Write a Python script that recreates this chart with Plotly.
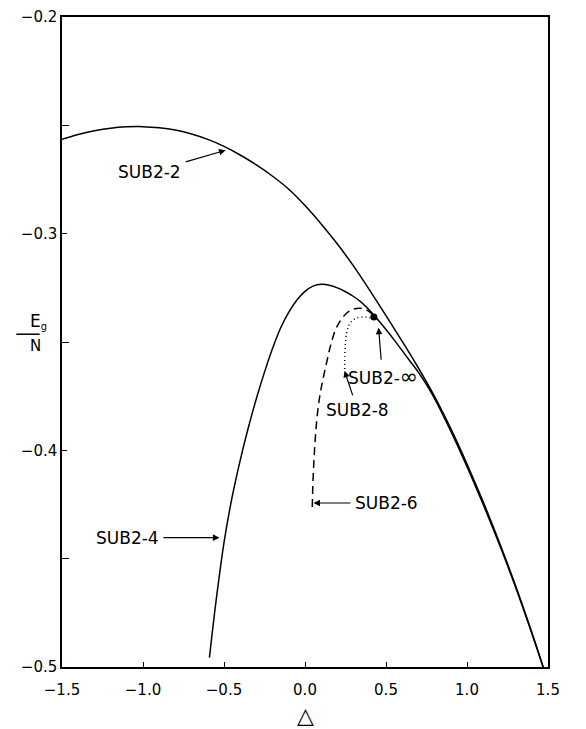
import plotly.graph_objects as go

# ---- data ----
sub2_2_x = [-1.5, -1.4, -1.3, -1.2, -1.1, -1.0, -0.9, -0.8, -0.7, -0.6, -0.5, -0.4, -0.3, -0.2,
            -0.1, 0.0, 0.1, 0.2, 0.3, 0.4, 0.5, 0.6, 0.7, 0.8, 0.9, 1.0, 1.1, 1.2, 1.3, 1.4, 1.47]
sub2_2_y = [-0.2564, -0.2542, -0.2525, -0.2513, -0.2507, -0.2506, -0.2511, -0.2522, -0.2540, -0.2565,
            -0.2597, -0.2637, -0.2683, -0.2735, -0.2795, -0.2870, -0.2955, -0.3048, -0.3150, -0.3262,
            -0.3378, -0.3497, -0.3620, -0.3752, -0.3900, -0.4063, -0.4238, -0.4425, -0.4625, -0.4840,
            -0.5000]

sub2_4_x = [-0.59, -0.577, -0.55, -0.5, -0.45, -0.4, -0.35, -0.3, -0.25, -0.2, -0.15, -0.1, -0.05,
            0.0, 0.05, 0.1, 0.15, 0.2, 0.25, 0.3, 0.35, 0.4, 0.45, 0.5, 0.55, 0.6, 0.65, 0.7, 0.75,
            0.8, 0.9, 1.0, 1.1, 1.2, 1.3, 1.4, 1.47]
sub2_4_y = [-0.4957, -0.4871, -0.4701, -0.4426, -0.4216, -0.4046, -0.3896, -0.3761, -0.3639, -0.3529,
            -0.3434, -0.3362, -0.3306, -0.3266, -0.3242, -0.3234, -0.3238, -0.3250, -0.3268, -0.3290,
            -0.3318, -0.3355, -0.3397, -0.3442, -0.3490, -0.3540, -0.3590, -0.3640, -0.3697, -0.3762,
            -0.3912, -0.4075, -0.4250, -0.4435, -0.4632, -0.4845, -0.5000]

sub2_6_x = [0.045, 0.049, 0.055, 0.063, 0.074, 0.090, 0.110, 0.135, 0.160, 0.19, 0.22, 0.26, 0.30,
            0.34, 0.38, 0.42, 0.45]
sub2_6_y = [-0.4262, -0.4150, -0.4050, -0.3950, -0.3850, -0.3755, -0.3675, -0.3590, -0.3510, -0.3440,
            -0.3400, -0.3365, -0.3348, -0.3344, -0.3352, -0.3375, -0.3397]

sub2_8_x = [0.245, 0.246, 0.250, 0.258, 0.272, 0.29, 0.315, 0.345, 0.375, 0.40, 0.425]
sub2_8_y = [-0.3625, -0.3560, -0.3500, -0.3455, -0.3422, -0.3402, -0.3390, -0.3385, -0.3385, -0.3388,
            -0.3390]

sub2_inf_x = [0.425]
sub2_inf_y = [-0.3385]

y_ticks = [-0.5, -0.4, -0.3, -0.2]
x_ticks = [-1.5, -1.0, -0.5, 0.0, 0.5, 1.0, 1.5]

FONT = "DejaVu Sans"

fig = go.Figure()
line_style = dict(color="black", width=1.5)
fig.add_trace(go.Scatter(x=sub2_2_x, y=sub2_2_y, mode="lines", line=dict(**line_style, shape="spline"),
                         showlegend=False, hoverinfo="skip"))
fig.add_trace(go.Scatter(x=sub2_4_x, y=sub2_4_y, mode="lines", line=dict(**line_style, shape="spline"),
                         showlegend=False, hoverinfo="skip"))
fig.add_trace(go.Scatter(x=sub2_6_x, y=sub2_6_y, mode="lines",
                         line=dict(color="black", width=1.5, dash="8px,5px", shape="spline"),
                         showlegend=False, hoverinfo="skip"))
fig.add_trace(go.Scatter(x=sub2_8_x, y=sub2_8_y, mode="lines",
                         line=dict(color="black", width=1.5, dash="1px,3px", shape="spline"),
                         showlegend=False, hoverinfo="skip"))
fig.add_trace(go.Scatter(x=sub2_inf_x, y=sub2_inf_y, mode="markers",
                         marker=dict(color="black", size=7), showlegend=False, hoverinfo="skip"))

def label(text, x, y, ax, ay):
    fig.add_annotation(x=x, y=y, xref="x", yref="y", text=text, showarrow=True,
                       ax=ax, ay=ay, arrowhead=2, arrowsize=1.1, arrowwidth=1.2,
                       arrowcolor="black", standoff=0, borderpad=4,
                       font=dict(family=FONT, size=17, color="black"))

label("SUB2-2", -0.49, -0.2615, -76, 22)
label("SUB2-4", -0.528, -0.4403, -92, 0)
label("SUB2-6", 0.052, -0.4243, 73, 0)
label("SUB2-8", 0.244, -0.3633, 13, 39)
label("SUB2-<span style='font-size:22px'>\u221e</span>", 0.454, -0.3434, 4, 49)

# axis titles
fig.add_annotation(x=-0.07, y=0.532, xref="paper", yref="paper", yanchor="middle",
                   text="E<span style='font-size:14px'><sub>g</sub></span>",
                   showarrow=False, font=dict(family=FONT, size=17, color="black"))
fig.add_annotation(x=-0.07, y=0.494, xref="paper", yref="paper", yanchor="middle", text="N",
                   showarrow=False, font=dict(family=FONT, size=15, color="black"))
fig.add_shape(type="line", xref="paper", yref="paper", x0=-0.094, x1=-0.046, y0=0.512, y1=0.512,
              line=dict(color="black", width=1.5))
fig.add_annotation(x=0.0, y=-0.074, xref="x", yref="paper", yanchor="middle", text="\u25b3",
                   showarrow=False, font=dict(family=FONT, size=22, color="black"))

fig.update_xaxes(range=[-1.5, 1.5], tickvals=x_ticks, tickformat=".1f",
                 ticks="inside", ticklen=5, tickwidth=1.2, tickcolor="black",
                 showline=True, linecolor="black", linewidth=1.5, mirror=True,
                 showgrid=False, zeroline=False, ticklabelstandoff=8,
                 tickfont=dict(family=FONT, size=15, color="black"))
fig.update_yaxes(range=[-0.5, -0.2], tickvals=y_ticks, tickformat=".1f",
                 ticks="inside", ticklen=5, tickwidth=1.2, tickcolor="black",
                 minor=dict(tickvals=[-0.45, -0.35, -0.25], ticks="inside", ticklen=7,
                            tickcolor="black", tickwidth=1.2),
                 showline=True, linecolor="black", linewidth=1.5, mirror=True,
                 showgrid=False, zeroline=False, ticklabelstandoff=0,
                 tickfont=dict(family=FONT, size=15, color="black"))

fig.update_layout(width=586, height=729, margin=dict(l=62, r=38, t=8, b=62),
                  paper_bgcolor="white", plot_bgcolor="white")

fig.write_html("out.html")
